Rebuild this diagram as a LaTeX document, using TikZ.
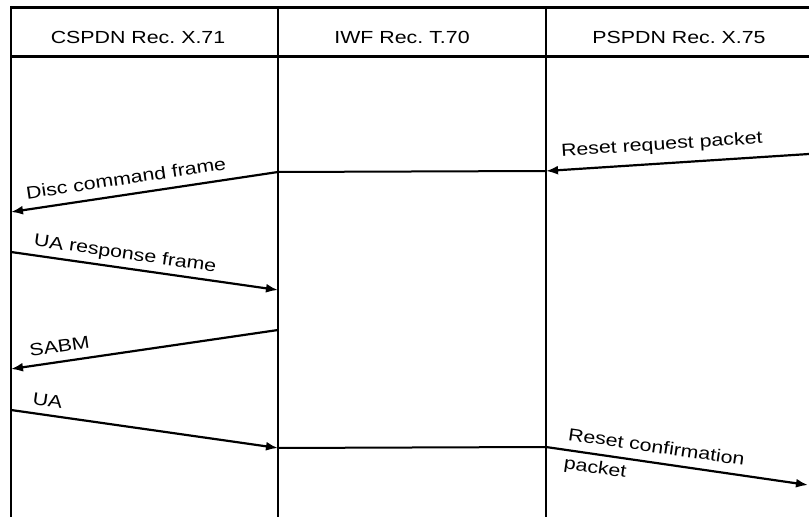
\documentclass[tikz,border=0pt]{standalone}
\usepackage{fontspec}
\newfontfamily\lblfont[FakeStretch=1.22]{Liberation Sans}
\usetikzlibrary{arrows.meta}

\begin{document}
\begin{tikzpicture}[x=1pt,y=-1pt,
  life/.style={line width=2.5pt},
  link/.style={line width=2pt},
  msg/.style={line width=2.2pt,-{Latex[length=12pt,width=9pt]}},
  txt/.style={font=\lblfont\fontsize{17.5}{20}\selectfont},
  lbl/.style={txt,sloped,inner sep=2pt}]
\useasboundingbox (0,0) rectangle (809,521);

%glava tabele
\draw [line width=3pt](11,7.5)--(809,7.5);
\draw [line width=3pt](11,56.5)--(809,56.5);
\node[txt,anchor=base] (csp) at (138,44) {CSPDN Rec.\ X.71};
\node[txt,anchor=base] (iwf) at (402,44) {IWF Rec.\ T.70};
\node[txt,anchor=base] (psp) at (679,44) {PSPDN Rec.\ X.75};

%navpicne crte
\draw [life](11,6)--(11,517);
\draw [life](278,7.5)--(278,517);
\draw [life](546,7.5)--(546,517);

%tocke sporocil
\coordinate (rq0) at (809,154);
\coordinate (rq1) at (546,171);
\coordinate (dc0) at (278,172);
\coordinate (dc1) at (11,212);
\coordinate (ua0) at (11,252);
\coordinate (ua1) at (278,290);
\coordinate (sb0) at (278,330);
\coordinate (sb1) at (11,369);
\coordinate (u0) at (11,410);
\coordinate (u1) at (278,448);
\coordinate (rc0) at (546,447);
\coordinate (rc1) at (808,485);

%reset in prekinitev
\draw [msg](rq0)--(rq1) node[lbl,pos=0.555,above=6.8pt]{Reset request packet};
\draw [link](rq1)--(dc0);
\draw [msg](dc0)--(dc1) node[lbl,pos=0.56,above=7pt]{Disc command frame};
\draw [msg](ua0)--(ua1) node[lbl,pos=0.42,above=2.4pt]{UA response frame};

%ponovna vzpostavitev
\draw [msg](sb0)--(sb1) node[lbl,pos=0.81,above=6pt]{SABM};
\draw [msg](u0)--(u1) node[lbl,pos=0.13,above=5pt]{UA};
\draw [link](u1)--(rc0);
\draw [msg](rc0)--(rc1) node[lbl,pos=0.065,anchor=west,align=left]{Reset confirmation\\[9pt]packet};

\end{tikzpicture}
\end{document}
